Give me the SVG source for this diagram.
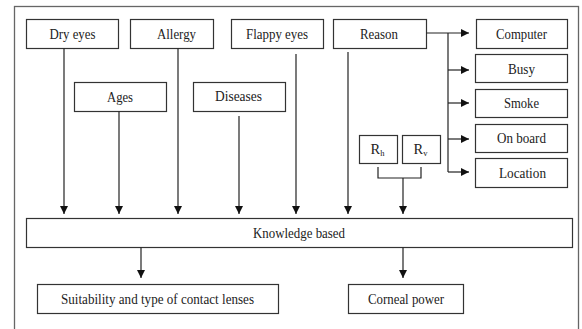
<svg xmlns="http://www.w3.org/2000/svg" width="582" height="329" viewBox="0 0 582 329">
<defs>
<marker id="ah" viewBox="0 0 8 8" refX="8" refY="4" markerWidth="8" markerHeight="8" markerUnits="userSpaceOnUse" orient="auto">
<path d="M0,0 L8,4 L0,8 Z" fill="#111"/>
</marker>
</defs>
<style>
.box{fill:#fff;stroke:#333;stroke-width:1.2}
.t{font-family:"Liberation Serif","Times New Roman",serif;font-size:14.5px;fill:#222;text-anchor:middle}
.c{fill:none;stroke:#222;stroke-width:1.2}
.a{fill:none;stroke:#222;stroke-width:1.2;marker-end:url(#ah)}
</style>
<rect x="0" y="0" width="582" height="329" fill="#fff"/>
<rect x="14.5" y="6.5" width="564" height="340" fill="none" stroke="#666" stroke-width="1.3"/>
<g id="dry-eyes"><rect class="box" x="26.5" y="19.5" width="92" height="29"/><text class="t" x="72.5" y="38.5" textLength="46" lengthAdjust="spacingAndGlyphs">Dry eyes</text></g>
<g id="allergy"><rect class="box" x="130.5" y="19.5" width="83" height="29"/><text class="t" x="176.5" y="38.5" textLength="39" lengthAdjust="spacingAndGlyphs">Allergy</text></g>
<g id="flappy-eyes"><rect class="box" x="231.5" y="19.5" width="92" height="29"/><text class="t" x="277" y="38.5" textLength="62" lengthAdjust="spacingAndGlyphs">Flappy eyes</text></g>
<g id="reason"><rect class="box" x="333.5" y="19.5" width="93" height="29"/><text class="t" x="379" y="38.5" textLength="38" lengthAdjust="spacingAndGlyphs">Reason</text></g>
<g id="computer"><rect class="box" x="476.5" y="19.5" width="91" height="29"/><text class="t" x="521.5" y="38.5" textLength="51" lengthAdjust="spacingAndGlyphs">Computer</text></g>
<g id="busy"><rect class="box" x="475.5" y="54.5" width="92" height="28"/><text class="t" x="521.5" y="73.5" textLength="27" lengthAdjust="spacingAndGlyphs">Busy</text></g>
<g id="smoke"><rect class="box" x="475.5" y="89.5" width="92" height="28"/><text class="t" x="521.5" y="108" textLength="35" lengthAdjust="spacingAndGlyphs">Smoke</text></g>
<g id="on-board"><rect class="box" x="475.5" y="124.5" width="92" height="28"/><text class="t" x="521.5" y="143" textLength="49" lengthAdjust="spacingAndGlyphs">On board</text></g>
<g id="location"><rect class="box" x="475.5" y="158.5" width="92" height="29"/><text class="t" x="522.5" y="177.5" textLength="47" lengthAdjust="spacingAndGlyphs">Location</text></g>
<g id="ages"><rect class="box" x="74.5" y="82.5" width="92" height="29"/><text class="t" x="120" y="101.5" textLength="26" lengthAdjust="spacingAndGlyphs">Ages</text></g>
<g id="diseases"><rect class="box" x="193.5" y="82.5" width="92" height="29"/><text class="t" x="238.5" y="101" textLength="47" lengthAdjust="spacingAndGlyphs">Diseases</text></g>
<g id="rh"><rect class="box" x="359.5" y="135.5" width="38" height="28"/><text class="t" x="377.5" y="154">R<tspan font-size="8.5" dy="2">h</tspan></text></g>
<g id="rv"><rect class="box" x="402.5" y="135.5" width="38" height="28"/><text class="t" x="420.5" y="154">R<tspan font-size="8.5" dy="2">v</tspan></text></g>
<g id="knowledge"><rect class="box" x="26.5" y="218.5" width="546" height="29"/><text class="t" x="299" y="237.5" textLength="92" lengthAdjust="spacingAndGlyphs">Knowledge based</text></g>
<g id="suitability"><rect class="box" x="37.5" y="284.5" width="241" height="29"/><text class="t" x="157.5" y="303.5" textLength="193" lengthAdjust="spacingAndGlyphs">Suitability and type of contact lenses</text></g>
<g id="corneal"><rect class="box" x="348.5" y="284.5" width="115" height="29"/><text class="t" x="406" y="303.5" textLength="76" lengthAdjust="spacingAndGlyphs">Corneal power</text></g>
<g id="connectors">
<line class="a" x1="64" y1="48.5" x2="64" y2="214"/>
<line class="a" x1="119" y1="111.5" x2="119" y2="214"/>
<line class="a" x1="178" y1="48.5" x2="178" y2="214"/>
<line class="a" x1="239" y1="116" x2="239" y2="214"/>
<line class="a" x1="296" y1="54" x2="296" y2="214"/>
<line class="a" x1="348" y1="52" x2="348" y2="214"/>
<polyline class="c" points="378,167 378,178 421,178 421,167"/>
<line class="a" x1="403" y1="178" x2="403" y2="214"/>
<line class="a" x1="426.5" y1="33" x2="469" y2="33"/>
<line class="c" x1="448" y1="33" x2="448" y2="172"/>
<line class="a" x1="448" y1="70" x2="469" y2="70"/>
<line class="a" x1="448" y1="103" x2="469" y2="103"/>
<line class="a" x1="448" y1="139" x2="469" y2="139"/>
<line class="a" x1="448" y1="172" x2="469" y2="172"/>
<line class="a" x1="141" y1="247.5" x2="141" y2="278"/>
<line class="a" x1="403" y1="247.5" x2="403" y2="278"/>
</g>
</svg>
